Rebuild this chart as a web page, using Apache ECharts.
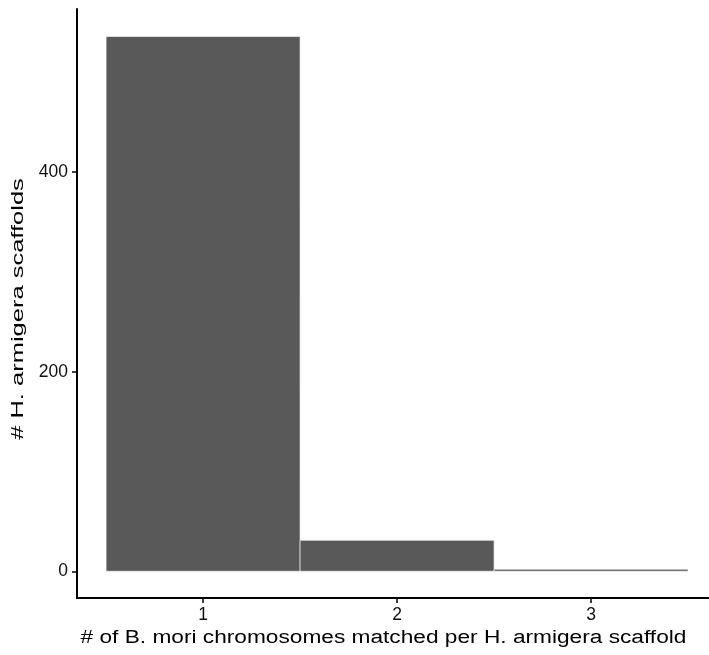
<!DOCTYPE html>
<html><head><meta charset="utf-8">
<script src="https://cdn.jsdelivr.net/npm/echarts@6/dist/echarts.min.js"></script>
<style>html,body{margin:0;padding:0;background:#fff}#c{width:709px;height:655px}</style>
</head><body><div id="c"></div>
<script>
const categories = [1, 2, 3];
const counts = [536, 31, 2];
const yTicks = [0, 200, 400];
const xTicks = [1, 2, 3];
const xTitle = '# of B. mori chromosomes matched per H. armigera scaffold';
const yTitle = '# H. armigera scaffolds';

const chart = echarts.init(document.getElementById('c'));
const font = 'Liberation Sans, Arial, Helvetica, sans-serif';
chart.setOption({
  animation: false,
  grid: { left: 77, right: 0, top: 9, bottom: 57 },
  xAxis: {
    type: 'value', min: 0.35, max: 3.608,
    splitLine: { show: false },
    axisLine: { show: true, onZero: false, lineStyle: { color: '#000', width: 2 } },
    axisTick: { show: true, customValues: xTicks, length: 5, lineStyle: { color: '#000', width: 1.5 } },
    axisLabel: { customValues: xTicks, color: '#111', fontSize: 17.5, fontFamily: font, margin: 8 }
  },
  yAxis: {
    type: 'value', min: -26.8, max: 563.6,
    splitLine: { show: false },
    axisLine: { show: true, onZero: false, lineStyle: { color: '#000', width: 2 } },
    axisTick: { show: true, customValues: yTicks, length: 5, lineStyle: { color: '#000', width: 1.5 } },
    axisLabel: { customValues: yTicks, color: '#111', fontSize: 17.5, fontFamily: font, margin: 9 }
  },
  graphic: [
    { type: 'text', x: 383.5, y: 638, scaleX: 1.26,
      style: { text: xTitle, font: '18px ' + font, fill: '#000', textAlign: 'center', textVerticalAlign: 'middle' } },
    { type: 'text', x: 18, y: 309, rotation: Math.PI / 2, scaleX: 1.5,
      style: { text: yTitle, font: '17px ' + font, fill: '#000', textAlign: 'center', textVerticalAlign: 'middle' } }
  ],
  series: [{
    type: 'custom',
    data: categories.map((c, i) => [c, counts[i]]),
    renderItem: function (params, api) {
      const x = api.value(0), v = api.value(1);
      const p0 = api.coord([x - 0.5, v]);
      const p1 = api.coord([x + 0.5, 0]);
      return {
        type: 'rect',
        shape: { x: p0[0], y: p0[1], width: p1[0] - p0[0], height: p1[1] - p0[1] },
        style: { fill: '#595959', stroke: '#ffffff', lineWidth: 0.6 }
      };
    }
  }]
});
</script></body></html>
